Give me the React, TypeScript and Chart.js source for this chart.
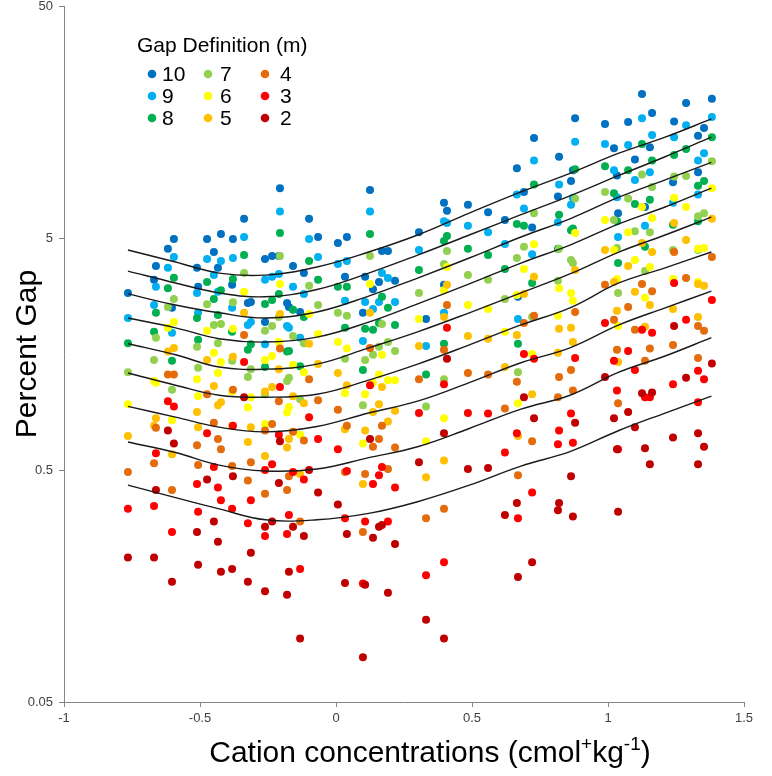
import React, { useEffect, useRef } from "react";
import { Chart, registerables } from "chart.js";
Chart.register(...registerables);

// Site positions (cation concentration, x)
const siteX = [-0.765, -0.669, -0.662, -0.618, -0.596, -0.603, -0.511, -0.507, -0.474, -0.449, -0.434, -0.423, -0.379, -0.382, -0.338, -0.324, -0.313, -0.261, -0.261, -0.235, -0.21, -0.206, -0.18, -0.173, -0.158, -0.118, -0.132, -0.099, -0.066, 0.007, 0.04, 0.033, 0.125, 0.107, 0.099, 0.136, 0.158, 0.169, 0.191, 0.217, 0.305, 0.331, 0.397, 0.408, 0.397, 0.485, 0.559, 0.621, 0.665, 0.669, 0.728, 0.879, 0.989, 0.82, 0.871, 0.864, 0.816, 0.691, 0.721, 1.022, 1.033, 1.037, 1.125, 1.162, 1.287, 1.382, 1.074, 1.243, 1.239, 1.154, 1.099, 1.331, 1.353, 1.331, 1.136];

// Percent gap per gap definition (m)
const gap10 = [2.9, 3.3, 3.79, 4.49, 4.95, 2.5, 3.72, 3.08, 4.95, 4.35, 3.72, 5.2, 4.95, 3.14, 6.05, 2.62, 2.65, 4.06, 2.17, 4.18, 4.18, 8.2, 2.62, 2.52, 3.79, 3.53, 2.4, 6.05, 5.05, 4.76, 5.05, 3.4, 8.05, 3.4, 2.38, 3.01, 3.23, 4.4, 4.4, 3.27, 5.3, 2.24, 7.1, 6.55, 3.14, 6.95, 6.45, 5.98, 10.0, 2.79, 13.5, 16.4, 15.5, 11.2, 9.8, 8.8, 7.55, 7.9, 5.55, 12.2, 9.3, 6.4, 20.9, 17.3, 19.1, 19.9, 15.8, 15.9, 8.7, 12.3, 10.9, 13.8, 14.9, 9.6, 6.8];
const gap9 = [2.26, 2.57, 3.08, 3.72, 4.14, 1.95, 2.9, 2.38, 4.06, 3.46, 2.93, 3.98, 4.1, 2.5, 5.05, 2.11, 2.17, 3.3, 1.74, 3.4, 3.5, 6.5, 2.09, 2.05, 3.08, 2.87, 1.86, 4.95, 4.14, 3.86, 3.98, 2.68, 6.5, 2.65, 1.8, 2.47, 2.65, 3.53, 3.36, 2.65, 4.44, 1.71, 5.9, 5.8, 2.38, 5.65, 5.3, 4.71, 7.7, 2.24, 10.8, 13.0, 12.7, 8.5, 7.45, 6.95, 5.85, 6.7, 4.26, 9.8, 7.5, 5.05, 16.4, 13.9, 15.3, 16.6, 12.6, 13.6, 7.1, 9.6, 8.9, 10.8, 11.6, 7.7, 5.65];
const gap8 = [1.76, 1.97, 2.38, 3.04, 3.37, 1.48, 2.26, 1.82, 3.23, 2.73, 2.33, 2.98, 3.33, 1.97, 4.22, 1.65, 1.74, 2.6, 1.39, 2.7, 2.87, 5.25, 1.62, 1.63, 2.45, 2.28, 1.4, 3.98, 3.3, 3.08, 3.08, 2.05, 5.2, 2.03, 1.35, 2.01, 2.15, 2.79, 2.5, 2.11, 3.64, 1.29, 4.85, 5.1, 1.75, 4.49, 4.22, 3.68, 5.75, 1.75, 8.5, 9.9, 10.2, 6.3, 5.5, 5.4, 4.49, 5.65, 3.2, 7.8, 5.9, 3.9, 12.7, 10.8, 12.1, 13.6, 9.8, 11.4, 5.7, 7.3, 7.0, 8.4, 8.8, 5.9, 4.58];
const gap7 = [1.32, 1.49, 1.86, 2.52, 2.73, 1.11, 1.7, 1.38, 2.59, 2.11, 1.76, 2.13, 2.64, 1.48, 3.53, 1.26, 1.36, 1.99, 1.06, 2.09, 2.28, 4.18, 1.21, 1.25, 1.89, 1.76, 1.01, 3.11, 2.57, 2.38, 2.31, 1.51, 4.18, 1.49, 0.95, 1.57, 1.7, 2.13, 1.78, 1.63, 2.9, 0.94, 3.86, 4.4, 1.23, 3.46, 3.3, 2.73, 4.1, 1.32, 6.4, 7.4, 7.9, 4.49, 3.9, 4.02, 3.27, 4.58, 2.28, 5.98, 4.53, 2.9, 9.4, 8.3, 9.25, 10.7, 7.4, 9.2, 4.44, 5.3, 5.35, 6.2, 6.4, 4.44, 3.6];
const gap6 = [0.96, 1.21, 1.19, 2.05, 2.17, 0.82, 1.23, 1.04, 1.99, 1.6, 1.31, 1.46, 2.03, 1.09, 2.93, 0.93, 1.03, 1.49, 0.79, 1.55, 1.78, 3.17, 0.885, 0.935, 1.42, 1.32, 0.71, 2.35, 1.93, 1.78, 1.67, 1.07, 3.17, 1.06, 0.65, 1.19, 1.29, 1.57, 1.22, 1.22, 2.24, 0.665, 2.98, 3.75, 0.835, 2.57, 2.47, 1.97, 2.84, 0.97, 4.7, 5.25, 5.98, 3.04, 2.68, 2.9, 2.31, 3.68, 1.58, 4.44, 3.33, 2.09, 6.8, 6.1, 6.8, 8.2, 5.3, 7.45, 3.33, 3.75, 4.02, 4.49, 4.53, 3.23, 2.76];
const gap5 = [0.7, 0.775, 0.835, 1.62, 1.68, 0.585, 0.89, 0.765, 1.49, 1.15, 0.95, 0.98, 1.54, 0.775, 2.38, 0.66, 0.765, 1.09, 0.575, 1.14, 1.36, 2.35, 0.625, 0.68, 1.04, 0.97, 0.48, 1.75, 1.43, 1.31, 1.16, 0.75, 2.38, 0.74, 0.435, 0.89, 0.96, 1.14, 0.81, 0.9, 1.71, 0.465, 2.28, 3.14, 0.55, 1.89, 1.84, 1.39, 1.91, 0.7, 3.4, 3.64, 4.44, 2.03, 1.78, 2.05, 1.6, 2.87, 1.06, 3.23, 2.43, 1.46, 4.76, 4.35, 4.9, 6.05, 3.79, 5.8, 2.47, 2.57, 2.93, 3.17, 3.11, 2.28, 2.07];
const gap4 = [0.49, 0.535, 0.76, 1.29, 1.29, 0.41, 0.64, 0.525, 1.06, 0.8, 0.68, 0.615, 1.11, 0.52, 1.91, 0.45, 0.54, 0.74, 0.395, 0.79, 0.99, 1.67, 0.41, 0.47, 0.73, 0.67, 0.3, 1.23, 1.0, 0.91, 0.775, 0.49, 1.68, 0.48, 0.27, 0.63, 0.68, 0.775, 0.505, 0.625, 1.23, 0.31, 1.65, 2.57, 0.34, 1.31, 1.29, 0.92, 1.2, 0.475, 2.31, 2.4, 3.14, 1.26, 1.1, 1.35, 1.03, 2.15, 0.665, 2.22, 1.65, 0.97, 3.17, 2.95, 3.36, 4.14, 2.52, 4.35, 1.73, 1.67, 2.01, 2.09, 1.99, 1.52, 1.48];
const gap3 = [0.34, 0.35, 0.59, 0.99, 0.94, 0.27, 0.435, 0.33, 0.72, 0.515, 0.42, 0.37, 0.775, 0.34, 1.46, 0.295, 0.37, 0.5, 0.26, 0.53, 0.71, 1.14, 0.265, 0.32, 0.49, 0.455, 0.187, 0.845, 0.68, 0.615, 0.495, 0.31, 1.16, 0.3, 0.162, 0.435, 0.475, 0.515, 0.3, 0.42, 0.88, 0.176, 1.17, 2.05, 0.2, 0.88, 0.875, 0.595, 0.72, 0.31, 1.51, 1.52, 2.15, 0.74, 0.655, 0.875, 0.645, 1.58, 0.4, 1.48, 1.1, 0.615, 2.01, 1.95, 2.22, 2.7, 1.63, 3.2, 1.17, 1.03, 1.35, 1.34, 1.23, 0.98, 1.03];
const gap2 = [0.21, 0.21, 0.41, 0.74, 0.65, 0.165, 0.27, 0.195, 0.455, 0.3, 0.245, 0.182, 0.47, 0.187, 1.03, 0.165, 0.22, 0.285, 0.15, 0.3, 0.44, 0.665, 0.145, 0.182, 0.285, 0.26, 0.094, 0.5, 0.4, 0.355, 0.265, 0.163, 0.68, 0.16, 0.078, 0.255, 0.285, 0.29, 0.148, 0.24, 0.54, 0.113, 0.72, 1.51, 0.094, 0.505, 0.51, 0.32, 0.36, 0.173, 0.835, 0.8, 1.26, 0.36, 0.315, 0.47, 0.335, 1.03, 0.2, 0.835, 0.615, 0.33, 1.07, 1.08, 1.25, 1.44, 0.89, 2.09, 0.69, 0.53, 0.765, 0.72, 0.63, 0.53, 0.62];

// Fitted curves
const curveX = [-0.765, -0.59, -0.43, -0.26, -0.07, 0.12, 0.3, 0.49, 0.68, 0.86, 1.04, 1.21, 1.38];
const fit10 = [4.44, 3.94, 3.53, 3.46, 3.75, 4.35, 5.15, 6.4, 7.9, 9.5, 11.6, 13.6, 16.3];
const fit9 = [3.6, 3.2, 2.9, 2.79, 3.0, 3.53, 4.22, 5.15, 6.3, 7.6, 9.3, 11.2, 13.6];
const fit8 = [2.87, 2.57, 2.38, 2.26, 2.4, 2.81, 3.36, 4.1, 5.05, 6.05, 7.5, 8.9, 10.6];
const fit7 = [2.26, 2.05, 1.84, 1.78, 1.87, 2.17, 2.6, 3.17, 3.9, 4.66, 5.75, 6.8, 8.2];
const fit6 = [1.75, 1.57, 1.39, 1.36, 1.43, 1.68, 1.97, 2.38, 2.9, 3.5, 4.35, 5.15, 6.15];
const fit5 = [1.31, 1.16, 1.05, 1.03, 1.06, 1.22, 1.43, 1.73, 2.11, 2.5, 3.2, 3.72, 4.35];
const fit4 = [0.94, 0.845, 0.765, 0.73, 0.77, 0.88, 0.99, 1.19, 1.45, 1.68, 2.11, 2.5, 2.95];
const fit3 = [0.66, 0.595, 0.525, 0.495, 0.505, 0.565, 0.63, 0.755, 0.915, 1.05, 1.32, 1.55, 1.86];
const fit2 = [0.43, 0.38, 0.34, 0.305, 0.305, 0.325, 0.365, 0.43, 0.52, 0.6, 0.74, 0.88, 1.04];

const gapLabels = ["10", "9", "8", "7", "6", "5", "4", "3", "2"];
const gapColors = ["#0070C0", "#00B0F0", "#00B050", "#92D050", "#FFFF00", "#FFC000", "#E46C0A", "#FF0000", "#C00000"];
const xTicks = [-1, -0.5, 0, 0.5, 1, 1.5];
const xTickLabels = ["-1", "-0.5", "0", "0.5", "1", "1.5"];
const yTicks = [0.05, 0.5, 5, 50];
const yTickLabels = ["0.05", "0.5", "5", "50"];

const FONT = '"Liberation Sans", Arial, sans-serif';

const overlay = {
  id: "overlay",
  afterDraw(chart: any) {
    const ctx = chart.ctx as CanvasRenderingContext2D;
    ctx.save();
    ctx.fillStyle = "#000";
    // Y title
    ctx.save();
    ctx.font = `30px ${FONT}`;
    ctx.textAlign = "center";
    ctx.textBaseline = "middle";
    ctx.translate(28, 354);
    ctx.rotate(-Math.PI / 2);
    ctx.fillText("Percent Gap", 0, 0);
    ctx.restore();

    // X title with superscripts
    const pieces: [string, boolean][] = [
      ["Cation concentrations (cmol", false],
      ["+", true],
      ["kg", false],
      ["-1", true],
      [")", false],
    ];
    const mainF = `30px ${FONT}`;
    const supF = `19px ${FONT}`;
    let total = 0;
    for (const [t, s] of pieces) {
      ctx.font = s ? supF : mainF;
      total += ctx.measureText(t).width;
    }
    let x = 430 - total / 2;
    const base = 762;
    ctx.textAlign = "left";
    ctx.textBaseline = "alphabetic";
    for (const [t, s] of pieces) {
      ctx.font = s ? supF : mainF;
      ctx.fillText(t, x, s ? base - 12 : base);
      x += ctx.measureText(t).width;
    }

    // Legend
    ctx.font = `21px ${FONT}`;
    ctx.fillText("Gap Definition (m)", 137, 52);
    const dotX = [152, 208, 265];
    const txtX = [162, 220, 280];
    const rowY = [74, 96, 118];
    ctx.textBaseline = "middle";
    gapLabels.forEach((lab, i) => {
      const c = Math.floor(i / 3);
      const r = i % 3;
      ctx.fillStyle = gapColors[i];
      ctx.beginPath();
      ctx.arc(dotX[c], rowY[r], 4.3, 0, Math.PI * 2);
      ctx.fill();
      ctx.fillStyle = "#000";
      ctx.fillText(lab, txtX[c], rowY[r] + 1);
    });
    ctx.restore();
  },
};

export default function App() {
  const ref = useRef<HTMLCanvasElement>(null);
  useEffect(() => {
    if (!ref.current) return;
    const series = [gap10, gap9, gap8, gap7, gap6, gap5, gap4, gap3, gap2];
    const fits = [fit10, fit9, fit8, fit7, fit6, fit5, fit4, fit3, fit2];
    const datasets: any[] = [];
    fits.forEach((f, i) => {
      datasets.push({
        label: "fit " + gapLabels[i],
        data: curveX.map((x, j) => ({ x, y: f[j] })),
        showLine: true,
        borderColor: "#1a1a1a",
        borderWidth: 1.4,
        pointRadius: 0,
        tension: 0.4,
        fill: false,
        order: 0,
      });
    });
    series.forEach((s, i) => {
      datasets.push({
        label: gapLabels[i],
        data: siteX.map((x, j) => ({ x, y: s[j] })),
        backgroundColor: gapColors[i],
        borderWidth: 0,
        pointRadius: 4,
        order: 10 - i,
      });
    });
    const tickFont = { size: 13, family: FONT };
    const chart = new Chart(ref.current, {
      type: "scatter",
      data: { datasets },
      options: {
        responsive: false,
        devicePixelRatio: 1,
        animation: false,
        layout: { padding: { top: 6, right: 28, left: 0, bottom: 0 } },
        plugins: { legend: { display: false }, tooltip: { enabled: false } },
        scales: {
          x: {
            type: "linear",
            min: -1,
            max: 1.5,
            afterBuildTicks: (s: any) => {
              s.ticks = xTicks.map((v) => ({ value: v }));
            },
            afterFit: (s: any) => {
              s.height = 74;
              s.paddingLeft = 0;
              s.paddingRight = 0;
            },
            ticks: {
              callback: (_v: any, i: number) => xTickLabels[i],
              font: tickFont,
              color: "#404040",
              padding: 4,
              maxRotation: 0,
              autoSkip: false,
            },
            grid: { drawOnChartArea: false, drawTicks: true, tickLength: 5, color: "#868686" },
            border: { color: "#868686", width: 1 },
          },
          y: {
            type: "logarithmic",
            min: 0.05,
            max: 50,
            afterBuildTicks: (s: any) => {
              s.ticks = yTicks.map((v) => ({ value: v }));
            },
            afterFit: (s: any) => {
              s.width = 64;
              s.paddingTop = 0;
              s.paddingBottom = 0;
            },
            ticks: {
              callback: (_v: any, i: number) => yTickLabels[i],
              font: tickFont,
              color: "#404040",
              padding: 6,
              autoSkip: false,
            },
            grid: { drawOnChartArea: false, drawTicks: true, tickLength: 5, color: "#868686" },
            border: { color: "#868686", width: 1 },
          },
        },
      },
      plugins: [overlay],
    } as any);
    return () => chart.destroy();
  }, []);
  return (
    <div style={{ position: "absolute", left: 0, top: 0, width: 772, height: 776, background: "#fff" }}>
      <canvas ref={ref} width={772} height={776} style={{ display: "block", width: 772, height: 776 }} />
    </div>
  );
}
